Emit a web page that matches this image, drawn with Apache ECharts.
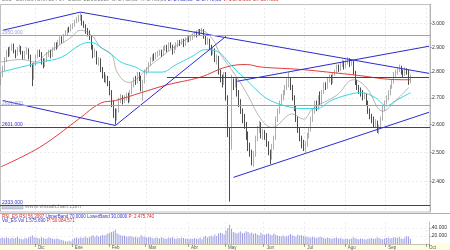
<!DOCTYPE html>
<html><head><meta charset="utf-8">
<script src="https://cdn.jsdelivr.net/npm/echarts@6/dist/echarts.min.js"></script>
<style>html,body{margin:0;padding:0;background:#fff}#c{width:450px;height:250px}</style>
</head><body><div id="c"></div>
<script>
// ---- categories (trading days per month shown) ----
const monthNames = ['Nov','Dic','Ene','Feb','Mar','Abr','May','Jun','Jul','Ago','Sep','Oct'];
const monthDays  = [19,20,20,20,23,20,21,22,22,22,22,2];

// ---- daily candles [open, close, low, high] ----
const candles = [
[2770,2790,2750,2800],[2790,2810,2780,2825],[2815,2850,2805,2860],[2850,2880,2840,2890],[2885,2875,2860,2900],
[2870,2895,2865,2905],[2900,2905,2885,2915],[2905,2885,2875,2915],[2880,2870,2855,2890],[2870,2890,2865,2900],
[2895,2900,2880,2910],[2900,2880,2870,2905],[2880,2860,2850,2885],[2860,2875,2850,2885],[2880,2890,2870,2900],
[2885,2860,2850,2895],[2860,2830,2820,2870],[2830,2770,2745,2835],[2780,2830,2770,2840],
[2835,2860,2825,2870],[2865,2880,2855,2890],[2880,2870,2860,2890],[2870,2850,2830,2880],[2845,2830,2815,2855],
[2830,2845,2820,2855],[2850,2870,2840,2880],[2870,2880,2860,2890],[2880,2865,2855,2890],[2865,2890,2860,2900],
[2890,2910,2885,2920],[2910,2900,2890,2920],[2900,2920,2895,2930],[2920,2935,2910,2945],[2935,2925,2915,2945],
[2925,2950,2920,2955],[2950,2960,2945,2970],[2960,2975,2950,2980],[2975,2970,2960,2985],[2970,2985,2965,2995],
[2985,2990,2975,3000],[2995,3005,2985,3015],[3005,3015,3000,3025],[3015,3025,3005,3035],[3025,3030,3010,3045],
[3030,3000,2990,3035],[3000,2990,2980,3010],[2990,2970,2955,2995],[2970,2960,2945,2980],[2960,2945,2930,2970],
[2945,2900,2890,2950],[2900,2870,2855,2910],[2870,2880,2860,2895],[2880,2840,2830,2885],[2840,2850,2825,2860],
[2850,2810,2800,2855],[2810,2790,2775,2820],[2790,2770,2760,2800],[2770,2780,2755,2790],[2780,2760,2745,2785],
[2760,2720,2710,2765],[2720,2680,2665,2730],[2680,2640,2625,2690],[2640,2625,2600,2660],[2625,2650,2615,2660],
[2650,2690,2645,2700],[2690,2700,2680,2715],[2700,2685,2675,2710],[2685,2700,2680,2710],[2700,2710,2690,2720],
[2710,2690,2680,2720],[2690,2720,2685,2730],[2720,2750,2715,2760],[2750,2770,2740,2780],[2770,2760,2750,2785],
[2760,2790,2755,2800],[2790,2780,2765,2800],[2780,2740,2725,2785],[2740,2760,2690,2770],[2760,2800,2755,2810],
[2800,2810,2790,2820],[2810,2830,2800,2840],[2830,2850,2825,2860],[2850,2860,2840,2870],[2860,2855,2845,2875],
[2855,2870,2850,2880],[2870,2875,2860,2885],[2875,2880,2865,2890],[2880,2870,2860,2890],[2870,2895,2865,2905],
[2895,2900,2885,2910],[2900,2890,2880,2910],[2890,2910,2885,2920],[2910,2905,2895,2920],[2905,2880,2870,2910],
[2880,2895,2875,2905],[2895,2910,2890,2920],[2910,2920,2900,2930],[2920,2915,2905,2930],[2915,2925,2910,2935],
[2925,2910,2900,2935],[2910,2930,2905,2940],[2930,2935,2920,2945],
[2935,2930,2920,2945],[2930,2940,2925,2950],[2940,2945,2930,2955],[2945,2955,2940,2965],[2955,2950,2940,2965],
[2950,2965,2945,2975],[2965,2960,2950,2975],[2960,2970,2955,2980],[2970,2945,2935,2975],[2945,2920,2910,2950],
[2920,2930,2910,2940],[2930,2900,2890,2935],[2900,2880,2865,2910],[2880,2890,2870,2900],[2890,2850,2840,2895],
[2850,2860,2830,2870],[2860,2800,2790,2865],[2800,2780,2760,2810],[2780,2760,2740,2790],[2760,2790,2750,2800],
[2790,2700,2690,2800],[2700,2580,2555,2710],[2575,2490,2333,2590],[2520,2760,2510,2790],[2760,2750,2730,2775],
[2750,2765,2740,2780],[2765,2720,2705,2775],[2720,2680,2665,2730],[2680,2650,2640,2695],[2650,2620,2605,2660],
[2620,2600,2585,2640],[2600,2560,2545,2610],[2560,2520,2505,2575],[2520,2500,2485,2535],[2500,2470,2455,2510],
[2470,2490,2450,2505],[2490,2550,2485,2560],[2550,2580,2540,2595],[2580,2600,2570,2615],[2600,2560,2550,2610],
[2560,2570,2545,2585],
[2570,2560,2545,2580],[2560,2530,2520,2570],[2530,2500,2490,2540],[2500,2480,2460,2510],[2480,2520,2475,2530],
[2520,2550,2510,2560],[2550,2620,2545,2630],[2620,2650,2610,2660],[2650,2680,2640,2690],[2680,2700,2670,2715],
[2700,2720,2690,2730],[2720,2740,2710,2750],[2740,2760,2730,2775],[2760,2770,2740,2800],[2770,2740,2730,2780],
[2740,2700,2690,2750],[2700,2660,2650,2710],[2660,2620,2610,2670],[2620,2580,2570,2630],[2580,2550,2540,2590],
[2550,2530,2515,2560],[2530,2520,2505,2545],
[2520,2530,2500,2540],[2530,2560,2520,2570],[2560,2580,2550,2590],[2580,2620,2575,2630],[2620,2650,2610,2660],
[2650,2680,2640,2690],[2680,2660,2650,2690],[2660,2700,2655,2710],[2720,2680,2670,2725],[2680,2720,2675,2730],
[2720,2750,2715,2760],[2750,2740,2730,2760],[2740,2770,2735,2780],[2770,2780,2760,2790],[2780,2760,2750,2790],
[2760,2790,2755,2800],[2790,2800,2785,2810],[2800,2820,2795,2830],[2820,2810,2800,2830],[2810,2830,2805,2840],
[2830,2840,2820,2850],[2840,2820,2810,2845],
[2820,2840,2815,2850],[2840,2850,2830,2860],[2850,2830,2820,2855],[2830,2840,2825,2850],[2840,2800,2790,2845],
[2800,2760,2750,2805],[2760,2740,2730,2770],[2740,2730,2715,2750],[2730,2720,2705,2740],[2720,2700,2690,2730],
[2700,2710,2695,2720],[2710,2680,2670,2715],[2680,2650,2640,2690],[2650,2630,2620,2660],[2630,2620,2605,2640],
[2620,2600,2590,2630],[2600,2610,2590,2620],[2610,2580,2570,2615],[2580,2590,2565,2600],[2590,2620,2585,2630],
[2620,2660,2615,2670],[2660,2680,2650,2690],
[2680,2700,2675,2710],[2700,2720,2690,2730],[2720,2740,2710,2750],[2740,2760,2735,2770],[2760,2790,2755,2800],
[2790,2800,2780,2810],[2800,2810,2790,2820],[2810,2820,2800,2830],[2820,2800,2790,2825],[2800,2790,2780,2810],
[2790,2810,2785,2820],[2810,2800,2790,2815],[2805,2760,2750,2810],[2760,2778,2755,2790]
];

// ---- daily volume (contracts) ----
const volumes = [
15,16,14,17,15,13,16,14,15,18,14,13,12,15,14,16,18,22,17,
16,15,14,17,15,13,14,16,15,13,12,14,13,11,10,9,7,6,8,6,
12,15,16,14,17,15,16,18,15,17,20,22,18,21,19,20,23,21,24,26,
28,30,32,36,27,24,22,20,21,19,18,20,19,17,18,16,17,22,19,18,
17,16,18,15,14,16,15,14,17,15,13,14,16,15,17,14,13,15,14,16,15,13,14,
12,14,13,15,14,13,16,12,18,20,16,19,21,18,24,20,26,28,27,24,
34,40,48,38,30,28,26,29,31,27,28,32,30,26,29,25,27,24,22,28,24,
23,25,27,24,22,26,23,21,20,19,22,18,20,21,25,22,20,19,23,21,22,20,
19,18,17,16,18,17,15,16,18,17,15,14,16,15,13,14,15,16,14,15,13,12,
14,13,12,14,16,15,13,12,14,13,12,11,13,14,15,13,14,16,15,13,12,14,
15,16,14,15,17,16,15,18,14,13,16,20,19,13
].map(v => v * 1000);

// ---- moving averages [day index, price] ----
const maShort = [[0,2840],[11,2850],[19,2840],[24,2870],[32,2910],[38,2940],[43,2970],[49,2950],[54,2900],[60,2870],
 [63,2800],[69,2760],[73,2770],[80,2820],[85,2850],[92,2890],[100,2930],[108,2970],[114,2940],[119,2870],[125,2810],
 [133,2720],[141,2620],[147,2590],[158,2640],[164,2620],[169,2660],[182,2710],[191,2770],[198,2740],[207,2650],
 [214,2690],[221,2740]];
const maMid = [[0,2800],[11,2820],[22,2840],[33,2860],[43,2910],[49,2920],[54,2900],[60,2870],[65,2840],[73,2820],
 [79,2800],[87,2800],[95,2830],[103,2860],[111,2890],[118,2880],[122,2850],[127,2810],[133,2770],[140,2720],
 [146,2690],[154,2670],[163,2660],[171,2660],[179,2690],[187,2710],[195,2720],[203,2700],[209,2670],[214,2690],[222,2720]];
const maLong = [[0,2450],[16,2500],[26,2540],[42,2620],[54,2680],[62,2690],[76,2720],[90,2750],[108,2780],[122,2820],
 [133,2830],[141,2820],[163,2810],[190,2790],[217,2770],[222,2770]];

// ---- drawn trend lines: pairs of [day index, price] ----
const trendLines = [
  [[1,2970],[43,3047]],
  [[43,3047],[232,2795]],
  [[1,2690],[62,2597]],
  [[62,2597],[122,2945]],
  [[128,2764],[232,2904]],
  [[126,2414],[232,2646]]
];
// ---- horizontal levels ----
const levels = [
  {value:2950, text:'2950.000', color:'#9a9ad6'},
  {value:2681, text:'2681.000', color:'#9a9ad6'},
  {value:2601, text:'2601.000', color:'#3535cc'},
  {value:2333, text:'2333.000', color:'#3535cc'}
];
const partialLevel = {value:2780, from:90, to:232};
const priceTicks = [2400,2500,2600,2700,2800,2900,3000];
const volTicks = [20000,40000];
const lastPrice = 2778, lastVolume = 13067;

// ---- build ----
const cats = [], monthStart = new Set();
monthNames.forEach((m, k) => { for (let d = 1; d <= monthDays[k]; d++) { if (d === 1 && k > 0) monthStart.add(cats.length); cats.push(m + ' ' + d); } });
const L = Math.log;
const fmt = v => String(Math.round(v)).replace(/\B(?=(\d{3})+(?!\d))/g, '.');
const isStart = (i) => monthStart.has(i);
const FONT = 'Liberation Sans';

const series = [];
series.push({
  type:'candlestick', xAxisIndex:0, yAxisIndex:0, barWidth:1.2,
  data: candles.map(r => r.map(L)),
  itemStyle:{color:'#d6d6d6', color0:'#000', borderColor:'#8c8c8c', borderColor0:'#000', borderWidth:0.7},
  markLine:{silent:true, symbol:'none', animation:false,
    data: levels.map(l => ({yAxis:L(l.value), lineStyle:{color:l.color, width:1, type:'solid'},
        label:{show:true, position:'insideStartTop', distance:[2,0], formatter:l.text, color:l.color, fontSize:5, fontFamily:FONT}}))
      .concat([[{coord:[partialLevel.from, L(partialLevel.value)], lineStyle:{color:'#3535cc', width:1, type:'solid'}, label:{show:false}},
                {coord:[partialLevel.to, L(partialLevel.value)]}]])
      .concat([{yAxis:L(lastPrice), lineStyle:{opacity:0}, label:{show:true, position:'end', distance:2, formatter:fmt(lastPrice),
        backgroundColor:'#ffff88', borderColor:'#999', borderWidth:0.5, padding:[0,1], color:'#333', fontSize:5, fontFamily:FONT}}])
  }
});
series.push({type:'line', xAxisIndex:0, yAxisIndex:0, data:maLong.map(p=>[p[0],L(p[1])]), smooth:0.4, showSymbol:false, lineStyle:{color:'#e23b3b', width:1}, z:3});
series.push({type:'line', xAxisIndex:0, yAxisIndex:0, data:maMid.map(p=>[p[0],L(p[1])]), smooth:0.4, showSymbol:false, lineStyle:{color:'#36d6e0', width:1}, z:3});
series.push({type:'line', xAxisIndex:0, yAxisIndex:0, data:maShort.map(p=>[p[0],L(p[1])]), smooth:0.4, showSymbol:false, lineStyle:{color:'#8a8a8a', width:0.6}, z:3});
trendLines.forEach(t => series.push({type:'line', xAxisIndex:0, yAxisIndex:0, data:t.map(p=>[p[0],L(p[1])]), showSymbol:false, lineStyle:{color:'#2b2bd0', width:1}, z:4}));
series.push({type:'bar', xAxisIndex:1, yAxisIndex:1, data:volumes, barWidth:1, itemStyle:{color:'#9d9de0'},
  markLine:{silent:true, symbol:'none', animation:false, data:[{yAxis:lastVolume, lineStyle:{opacity:0},
    label:{show:true, position:'end', distance:2, formatter:fmt(lastVolume), backgroundColor:'#ffff88', borderColor:'#999', borderWidth:0.5, padding:[0,1], color:'#333', fontSize:5, fontFamily:FONT}}]}});

const option = {
  animation:false, backgroundColor:'#fff',
  textStyle:{fontFamily:FONT},
  grid:[{left:0, right:20, top:4, height:208}, {left:0, right:20, top:222, height:22}],
  xAxis:[
    {type:'category', gridIndex:0, data:cats, boundaryGap:true, axisLine:{show:false}, axisTick:{show:false}, axisLabel:{show:false},
     splitLine:{show:true, interval:(i)=>isStart(i), lineStyle:{color:'#dcdcdc', type:[2,2], width:0.6}}},
    {type:'category', gridIndex:1, data:cats, boundaryGap:true, axisLine:{show:true, lineStyle:{color:'#999', width:0.6}},
     axisTick:{show:true, interval:(i)=>isStart(i), length:3, lineStyle:{color:'#666', width:0.6}},
     axisLabel:{show:true, interval:(i)=>isStart(i), formatter:v=>v.split(' ')[0], fontSize:4.5, color:'#555', margin:1, align:'left', padding:[0,0,0,2]},
     splitLine:{show:true, interval:(i)=>isStart(i), lineStyle:{color:'#e2e2e2', type:[2,2], width:0.6}}}
  ],
  yAxis:[
    {type:'value', gridIndex:0, position:'right', min:L(2299), max:L(3082), scale:true,
     axisLine:{show:true, lineStyle:{color:'#999', width:0.6}},
     axisTick:{show:true, length:2, customValues:priceTicks.map(L), lineStyle:{color:'#888', width:0.6}},
     axisLabel:{customValues:priceTicks.map(L), formatter:v=>fmt(Math.round(Math.exp(v)/100)*100), fontSize:5, color:'#333', margin:2},
     splitLine:{show:true, lineStyle:{color:'#e2e2e2', type:[2,2], width:0.6}}},
    {type:'value', gridIndex:1, position:'right', min:0, max:55000,
     axisLine:{show:true, lineStyle:{color:'#999', width:0.6}},
     axisTick:{show:true, length:2, customValues:volTicks, lineStyle:{color:'#888', width:0.6}},
     axisLabel:{customValues:volTicks, formatter:v=>fmt(v), fontSize:5, color:'#333', margin:2},
     splitLine:{show:true, lineStyle:{color:'#e8e8e8', type:[2,2], width:0.6}}}
  ],
  graphic:[
    {type:'rect', z:-10, shape:{x:0, y:244, width:450, height:6}, style:{fill:'#ffffe0'}},
    {type:'rect', z:-5, shape:{x:0.5, y:4.5, width:429.5, height:207.5}, style:{fill:'none', stroke:'#b0b0b0', lineWidth:0.8}},
    {type:'line', shape:{x1:0, y1:213.5, x2:450, y2:213.5}, style:{stroke:'#999', lineWidth:0.8}},
    {type:'text', left:2, top:-3, style:{text:'{g|ES1 - EUROSTOXX 50 FUT  Diario  22/09/2010  O: 2.768,00  H: 2.786,00 }{b|L: 2.755,00  C: 2.778,00 }{r|V: 1.575.690 OI: 587.000}', rich:{g:{fill:'#777',fontSize:5,fontFamily:FONT},b:{fill:'#3333cc',fontSize:5,fontFamily:FONT},r:{fill:'#cc3333',fontSize:5,fontFamily:FONT}}}},
    {type:'rect', shape:{x:2, y:205, width:21, height:4}, style:{fill:'#c5cde0', stroke:'#8a96b0', lineWidth:0.4}},
    {type:'text', left:25, top:203.5, style:{text:'www.visualchart.com', fill:'#8a8a8a', fontSize:6, fontFamily:FONT}},
    {type:'text', left:2, top:213.8, style:{text:'{r|RSI_ES RSI 56,3097 }{b|UpperBand 70,0000 LowerBand 30,0000 }{r|P: 2.475.740}', rich:{r:{fill:'#cc2a2a',fontSize:4.5,fontFamily:FONT},b:{fill:'#3333cc',fontSize:4.5,fontFamily:FONT}}}},
    {type:'text', left:2, top:218.5, style:{text:'{b|Vol_ES Vol 1.575.690 }{r|P: 50.084.571}', rich:{r:{fill:'#cc2a2a',fontSize:4.5,fontFamily:FONT},b:{fill:'#3333cc',fontSize:4.5,fontFamily:FONT}}}}
  ],
  series
};
const chart = echarts.init(document.getElementById('c'), null, {renderer:'canvas'});
chart.setOption(option);
</script></body></html>
